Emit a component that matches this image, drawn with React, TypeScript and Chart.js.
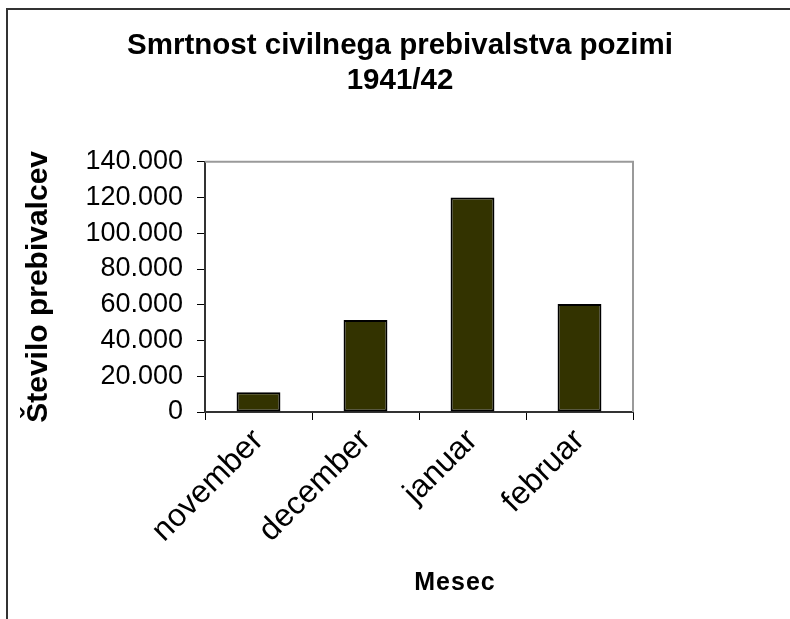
import React, { useEffect, useRef } from 'react';
import { Chart, registerables } from 'chart.js';

Chart.register(...registerables);

const categories = ['november', 'december', 'januar', 'februar'];
const deaths = [11000, 51500, 120000, 60500];
const yMin = 0;
const yMax = 140000;
const yStep = 20000;
const titleLines = ['Smrtnost civilnega prebivalstva pozimi', '1941/42'];
const yAxisTitle = 'Število prebivalcev';
const xAxisTitle = 'Mesec';

const FONT = '"Liberation Sans", Arial, sans-serif';

const fmt = (v: number) => String(v).replace(/\B(?=(\d{3})+(?!\d))/g, '.');

const plotFrame = {
  id: 'plotFrame',
  beforeDatasetsDraw(chart: any) {
    const { ctx, chartArea } = chart;
    const { left, top, right, bottom } = chartArea;
    ctx.save();
    ctx.strokeStyle = '#9a9a9a';
    ctx.lineWidth = 2;
    ctx.beginPath();
    ctx.moveTo(left, top);
    ctx.lineTo(right, top);
    ctx.lineTo(right, bottom);
    ctx.stroke();
    ctx.restore();
  },
};

// x-axis title, placed slightly right of the plot centre as in the original
const xTitlePlugin = {
  id: 'xTitlePlugin',
  afterDraw(chart: any) {
    const { ctx, chartArea } = chart;
    const cx = (chartArea.left + chartArea.right) / 2 + 36;
    ctx.save();
    ctx.font = `bold 25px ${FONT}`;
    (ctx as any).letterSpacing = '1px';
    ctx.fillStyle = '#000';
    ctx.textAlign = 'center';
    ctx.textBaseline = 'middle';
    ctx.fillText(xAxisTitle, cx, chart.height - 36);
    ctx.restore();
  },
};

export default function App() {
  const ref = useRef<HTMLCanvasElement | null>(null);

  useEffect(() => {
    if (!ref.current) return;
    const chart = new Chart(ref.current, {
      type: 'bar',
      data: {
        labels: categories,
        datasets: [
          {
            data: deaths,
            backgroundColor: '#333300',
            borderColor: '#000000',
            borderWidth: 2,
            borderSkipped: false,
            categoryPercentage: 1,
            barPercentage: 0.41,
          },
        ],
      },
      options: {
        animation: false,
        responsive: false,
        maintainAspectRatio: false,
        devicePixelRatio: 1,
        layout: { padding: { left: 10, right: 0, top: 0, bottom: 0 } },
        plugins: {
          legend: { display: false },
          tooltip: { enabled: false },
          title: {
            display: true,
            text: titleLines,
            color: '#000',
            font: { family: FONT, size: 29.5, weight: 'bold', lineHeight: 1.2 },
            padding: { top: 28, bottom: 63 },
          },
        },
        scales: {
          x: {
            type: 'category',
            offset: true,
            grid: {
              display: true,
              drawOnChartArea: false,
              drawTicks: true,
              tickLength: 8,
              tickColor: '#000',
              tickWidth: 1,
              offset: true,
            },
            border: { display: true, color: '#333', width: 2 },
            ticks: {
              color: '#000',
              font: { family: FONT, size: 32 },
              maxRotation: 45,
              minRotation: 45,
              autoSkip: false,
              padding: 2,
            },
            title: { display: false, text: xAxisTitle },
            afterFit: (s: any) => {
              s.height = 207;
            },
          },
          y: {
            min: yMin,
            max: yMax,
            grid: {
              display: true,
              drawOnChartArea: false,
              drawTicks: true,
              tickLength: 8,
              tickColor: '#000',
              tickWidth: 1,
            },
            border: { display: true, color: '#333', width: 2 },
            ticks: {
              stepSize: yStep,
              color: '#000',
              font: { family: FONT, size: 27 },
              padding: 14,
              callback: (v: any) => fmt(Number(v)),
            },
            title: {
              display: true,
              text: yAxisTitle,
              color: '#000',
              font: { family: FONT, size: 30, weight: 'bold', lineHeight: 1.2 },
              padding: { top: 11, bottom: 0 },
            },
            afterFit: (s: any) => {
              s.width = 195;
            },
          },
          spacer: {
            type: 'linear',
            position: 'right',
            display: true,
            grid: { display: false, drawTicks: false },
            border: { display: false },
            ticks: { display: false },
            afterFit: (s: any) => {
              s.width = 157;
            },
          },
        },
      } as any,
      plugins: [plotFrame, xTitlePlugin],
    });
    return () => chart.destroy();
  }, []);

  return (
    <div
      style={{
        position: 'fixed',
        left: 0,
        top: 0,
        width: 790,
        height: 619,
        overflow: 'hidden',
        background: '#fff',
      }}
    >
      <div
        style={{
          position: 'absolute',
          left: 6,
          top: 8,
          width: 1000,
          height: 1000,
          border: '2px solid #333',
        }}
      />
      <canvas
        ref={ref}
        width={790}
        height={619}
        style={{ position: 'absolute', left: 0, top: 0, width: 790, height: 619 }}
      />
    </div>
  );
}
